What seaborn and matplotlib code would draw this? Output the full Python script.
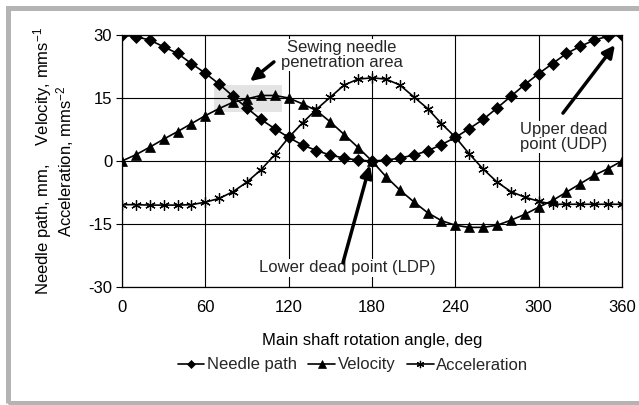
import numpy as np
import pandas as pd
import matplotlib
matplotlib.use("Agg")
import matplotlib.pyplot as plt
import seaborn as sns
from matplotlib.patches import Rectangle

# ---- data ----
angles = list(range(0, 361, 10))
needle_path = [30.0, 29.6, 28.8, 27.2, 25.6, 23.2, 20.9, 18.3, 15.4, 12.6, 9.9, 7.7,
               5.6, 3.8, 2.5, 1.4, 0.7, 0.2, 0.0, 0.2, 0.7, 1.4, 2.4, 3.9, 5.6, 7.7,
               9.9, 12.6, 15.4, 18.2, 20.8, 23.2, 25.6, 27.3, 28.8, 29.7, 30.0]
velocity = [0.0, 1.5, 3.3, 5.2, 7.0, 8.9, 10.8, 12.5, 14.0, 14.8, 15.6, 15.6, 15.0,
            13.6, 12.0, 9.3, 6.3, 3.2, 0.0, -3.7, -6.9, -9.7, -12.3, -14.2, -15.3,
            -15.8, -15.8, -15.3, -14.1, -12.7, -11.0, -9.4, -7.4, -5.4, -3.4, -1.8, 0.0]
acceleration = [-10.4, -10.4, -10.5, -10.5, -10.5, -10.4, -9.8, -8.9, -7.3, -5.0,
                -2.1, 1.5, 5.6, 9.1, 12.3, 15.2, 18.1, 19.5, 19.8, 19.5, 18.1, 15.3,
                12.5, 8.9, 5.7, 1.7, -1.9, -5.0, -7.3, -8.6, -9.6, -10.3, -10.3,
                -10.3, -10.3, -10.3, -10.3]
series_names = ["Needle path", "Velocity", "Acceleration"]
x_ticks = [0, 60, 120, 180, 240, 300, 360]
y_ticks = [-30, -15, 0, 15, 30]

sns.set_theme(style="white")
plt.rcParams["font.family"] = ["Liberation Sans", "DejaVu Sans"]
plt.rcParams["mathtext.fontset"] = "custom"
plt.rcParams["mathtext.rm"] = "Liberation Sans"
plt.rcParams["mathtext.it"] = "Liberation Sans:italic"

FS = 12
W, H = 639, 405
fig = plt.figure(figsize=(W / 100, H / 100), dpi=100)
fig.patch.set_facecolor("white")
ax = fig.add_axes([122 / W, 1 - 287 / H, 500 / W, 252 / H])
ax.set_facecolor("white")

df = pd.DataFrame({"angle": angles, "Needle path": needle_path,
                   "Velocity": velocity, "Acceleration": acceleration})

marker_specs = {
    "Needle path": dict(marker="D", markersize=6.0, markeredgewidth=0.5),
    "Velocity": dict(marker="^", markersize=7.5, markeredgewidth=0.5),
    "Acceleration": dict(marker=(6, 2, 0), markersize=7.5, markeredgewidth=0.9),
}
for name in series_names:
    sns.lineplot(data=df, x="angle", y=name, ax=ax, color="black", linewidth=1.2,
                 markerfacecolor="black", markeredgecolor="black",
                 label=name, zorder=3, **marker_specs[name])

ax.set_xlim(0, 360)
ax.set_ylim(-30, 30)
ax.set_xticks(x_ticks)
ax.set_yticks(y_ticks)
ax.set_xticklabels([str(v) for v in x_ticks])
ax.set_yticklabels([str(v) for v in y_ticks])
ax.grid(True, color="black", linewidth=0.8)
ax.set_axisbelow(True)
for s in ax.spines.values():
    s.set_visible(True)
    s.set_color("black")
    s.set_linewidth(0.9)
ax.tick_params(axis="x", length=0, pad=9, labelsize=FS, colors="black")
ax.tick_params(axis="y", length=4, width=0.8, pad=3, labelsize=FS, colors="black", left=True)

# penetration area
ax.add_patch(Rectangle((66, 11.6), 49, 6.5, facecolor="#e4e4e4", edgecolor="none", zorder=0.3))

ax.set_xlabel("Main shaft rotation angle, deg", fontsize=FS, labelpad=13, color="black")
ax.set_ylabel("")
fig.text(54 / W, 1 - 161 / H,
         "Needle path, mm,    Velocity, mms$^{-1}$\nAcceleration, mms$^{-2}$",
         rotation=90, ha="center", va="center", multialignment="center",
         fontsize=FS, linespacing=1.0, color="black")

bbox = dict(facecolor="white", edgecolor="none", pad=1.0)
ax.text(158, 25.2, "Sewing needle\npenetration area", ha="center", va="center",
        fontsize=FS, linespacing=1.0, bbox=bbox, zorder=4)
ax.text(318, 5.7, "Upper dead\npoint (UDP)", ha="center", va="center",
        fontsize=FS, linespacing=1.0, bbox=bbox, zorder=4)
ax.text(162, -25.4, "Lower dead point (LDP)", ha="center", va="center",
        fontsize=FS, bbox=bbox, zorder=4)

arrow = dict(arrowstyle="-|>,head_length=0.6,head_width=0.3", color="black", lw=2.5,
             shrinkA=0, shrinkB=0)
ax.annotate("", xy=(92.2, 19.0), xytext=(109.4, 23.6), arrowprops=arrow, zorder=5)
ax.annotate("", xy=(354.9, 27.6), xytext=(317.5, 11.4), arrowprops=arrow, zorder=5)
ax.annotate("", xy=(178.5, -1.0), xytext=(159.1, -24.2), arrowprops=arrow, zorder=5)

ax.get_legend().remove()
handles, labels = ax.get_legend_handles_labels()
fig.legend(handles, labels, loc="center", bbox_to_anchor=(353 / W, 1 - 365 / H),
           ncol=3, frameon=False, fontsize=FS, handlelength=1.6, handletextpad=0.15,
           columnspacing=0.7, markerscale=0.7)

# outer border
fig.add_artist(Rectangle((7.5 / W, 2.5 / H), 640 / W, 395 / H,
                         transform=fig.transFigure, fill=False,
                         edgecolor="#b4b4b4", linewidth=3.6, zorder=0))

fig.savefig("out.png", dpi=100, facecolor="white")
